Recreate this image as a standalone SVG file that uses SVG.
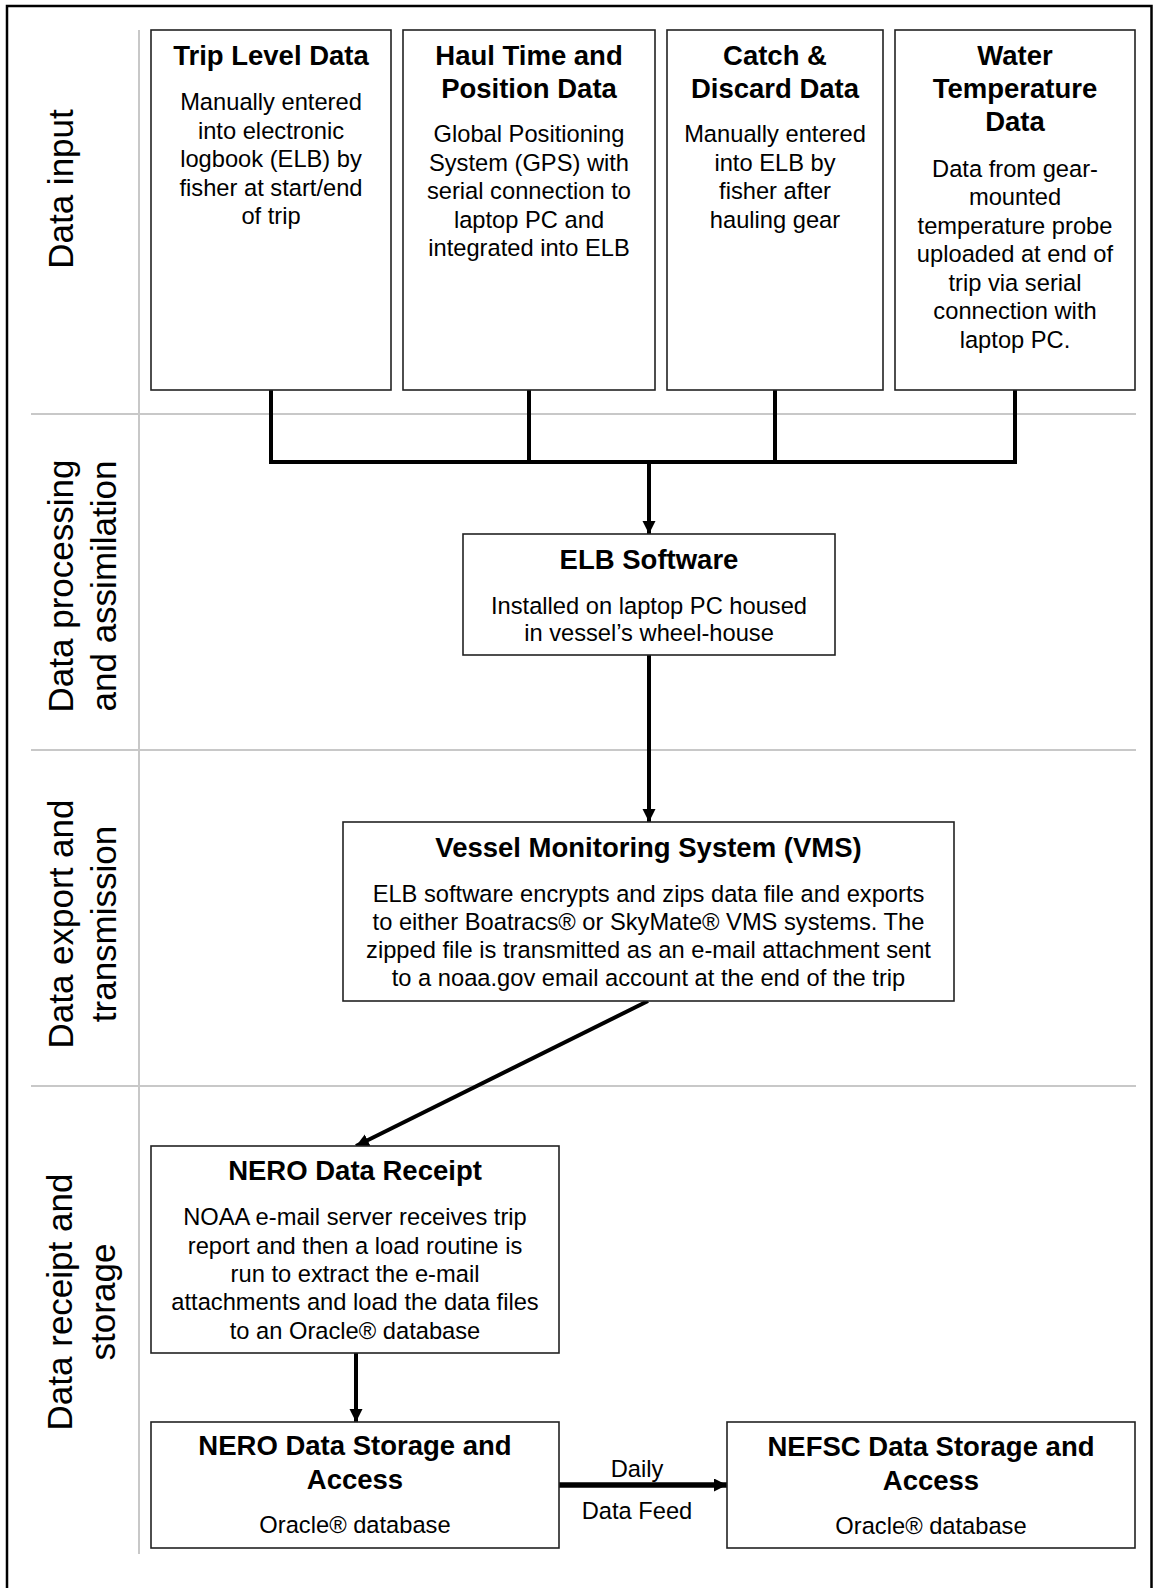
<svg xmlns="http://www.w3.org/2000/svg" width="1153" height="1588" viewBox="0 0 1153 1588">
<defs>
<style>
text{font-family:"Liberation Sans",Arial,sans-serif;fill:#000}
.t{font-size:27.5px;font-weight:bold;text-anchor:middle}
.b{font-size:23.7px;text-anchor:middle}
.lane{font-size:35px;text-anchor:middle}
.box{fill:#fff;stroke:#222;stroke-width:1.6}
.sep{stroke:#c8c8c8;stroke-width:2;fill:none}
.con{stroke:#000;stroke-width:4;fill:none}
</style>
<marker id="ah" markerUnits="userSpaceOnUse" markerWidth="14" markerHeight="14" refX="13" refY="6.5" orient="auto">
<path d="M0,0 L13,6.5 L0,13 z" fill="#000"/>
</marker>
</defs>
<rect x="0" y="0" width="1153" height="1588" fill="#fff"/>
<rect x="7" y="6" width="1144.5" height="1600" fill="none" stroke="#000" stroke-width="2.5"/>

<g id="lanes">
<line class="sep" x1="139" y1="30" x2="139" y2="1554"/>
<line class="sep" x1="31" y1="414" x2="1136" y2="414"/>
<line class="sep" x1="31" y1="750" x2="1136" y2="750"/>
<line class="sep" x1="31" y1="1086" x2="1136" y2="1086"/>
<text class="lane" transform="translate(73,189) rotate(-90)">Data input</text>
<text class="lane" transform="translate(73,586) rotate(-90)"><tspan x="0" y="0">Data processing</tspan><tspan x="0" y="43">and assimilation</tspan></text>
<text class="lane" transform="translate(73,924) rotate(-90)"><tspan x="0" y="0">Data export and</tspan><tspan x="0" y="43">transmission</tspan></text>
<text class="lane" transform="translate(72,1302) rotate(-90)"><tspan x="0" y="0">Data receipt and</tspan><tspan x="0" y="43">storage</tspan></text>
</g>

<g id="connectors">
<line class="con" x1="271" y1="390" x2="271" y2="462"/>
<line class="con" x1="529" y1="390" x2="529" y2="462"/>
<line class="con" x1="775" y1="390" x2="775" y2="462"/>
<line class="con" x1="1015" y1="390" x2="1015" y2="462"/>
<path class="con" d="M269,462 H1017"/>
<line class="con" x1="649" y1="462" x2="649" y2="534" marker-end="url(#ah)"/>
<line class="con" x1="649" y1="655" x2="649" y2="822" marker-end="url(#ah)"/>
<line class="con" x1="648" y1="1001" x2="356" y2="1146" marker-end="url(#ah)"/>
<line class="con" x1="356" y1="1353" x2="356" y2="1422" marker-end="url(#ah)"/>
<line class="con" x1="559" y1="1485" x2="727" y2="1485" style="stroke-width:5.5" marker-end="url(#ah)"/>
<text class="b" x="637" y="1477">Daily</text>
<text class="b" x="637" y="1519">Data Feed</text>
</g>

<g id="trip">
<rect class="box" x="151" y="30" width="240" height="360"/>
<text class="t" x="271" y="65">Trip Level Data</text>
<text class="b"><tspan x="271" y="110">Manually entered</tspan><tspan x="271" y="138.5">into electronic</tspan><tspan x="271" y="167">logbook (ELB) by</tspan><tspan x="271" y="195.5">fisher at start/end</tspan><tspan x="271" y="224">of trip</tspan></text>
</g>

<g id="haul">
<rect class="box" x="403" y="30" width="252" height="360"/>
<text class="t"><tspan x="529" y="65">Haul Time and</tspan><tspan x="529" y="98">Position Data</tspan></text>
<text class="b"><tspan x="529" y="142">Global Positioning</tspan><tspan x="529" y="170.5">System (GPS) with</tspan><tspan x="529" y="199">serial connection to</tspan><tspan x="529" y="227.5">laptop PC and</tspan><tspan x="529" y="256">integrated into ELB</tspan></text>
</g>

<g id="catch">
<rect class="box" x="667" y="30" width="216" height="360"/>
<text class="t"><tspan x="775" y="65">Catch &amp;</tspan><tspan x="775" y="98">Discard Data</tspan></text>
<text class="b"><tspan x="775" y="142">Manually entered</tspan><tspan x="775" y="170.5">into ELB by</tspan><tspan x="775" y="199">fisher after</tspan><tspan x="775" y="227.5">hauling gear</tspan></text>
</g>

<g id="water">
<rect class="box" x="895" y="30" width="240" height="360"/>
<text class="t"><tspan x="1015" y="65">Water</tspan><tspan x="1015" y="98">Temperature</tspan><tspan x="1015" y="131">Data</tspan></text>
<text class="b"><tspan x="1015" y="176.5">Data from gear-</tspan><tspan x="1015" y="205">mounted</tspan><tspan x="1015" y="233.5">temperature probe</tspan><tspan x="1015" y="262">uploaded at end of</tspan><tspan x="1015" y="290.5">trip via serial</tspan><tspan x="1015" y="319">connection with</tspan><tspan x="1015" y="347.5">laptop PC.</tspan></text>
</g>

<g id="elb">
<rect class="box" x="463" y="534" width="372" height="121"/>
<text class="t" x="649" y="569">ELB Software</text>
<text class="b"><tspan x="649" y="614">Installed on laptop PC housed</tspan><tspan x="649" y="641">in vessel’s wheel-house</tspan></text>
</g>

<g id="vms">
<rect class="box" x="343" y="822" width="611" height="179"/>
<text class="t" x="648.5" y="857">Vessel Monitoring System (VMS)</text>
<text class="b"><tspan x="648.5" y="902">ELB software encrypts and zips data file and exports</tspan><tspan x="648.5" y="930">to either Boatracs® or SkyMate® VMS systems. The</tspan><tspan x="648.5" y="958">zipped file is transmitted as an e-mail attachment sent</tspan><tspan x="648.5" y="986">to a noaa.gov email account at the end of the trip</tspan></text>
</g>

<g id="receipt">
<rect class="box" x="151" y="1146" width="408" height="207"/>
<text class="t" x="355" y="1180">NERO Data Receipt</text>
<text class="b"><tspan x="355" y="1225">NOAA e-mail server receives trip</tspan><tspan x="355" y="1253.5">report and then a load routine is</tspan><tspan x="355" y="1282">run to extract the e-mail</tspan><tspan x="355" y="1310">attachments and load the data files</tspan><tspan x="355" y="1338.5">to an Oracle® database</tspan></text>
</g>

<g id="nero-storage">
<rect class="box" x="151" y="1422" width="408" height="126"/>
<text class="t"><tspan x="355" y="1455">NERO Data Storage and</tspan><tspan x="355" y="1489">Access</tspan></text>
<text class="b" x="355" y="1533">Oracle® database</text>
</g>

<g id="nefsc">
<rect class="box" x="727" y="1422" width="408" height="126"/>
<text class="t"><tspan x="931" y="1456">NEFSC Data Storage and</tspan><tspan x="931" y="1490">Access</tspan></text>
<text class="b" x="931" y="1534">Oracle® database</text>
</g>
</svg>
